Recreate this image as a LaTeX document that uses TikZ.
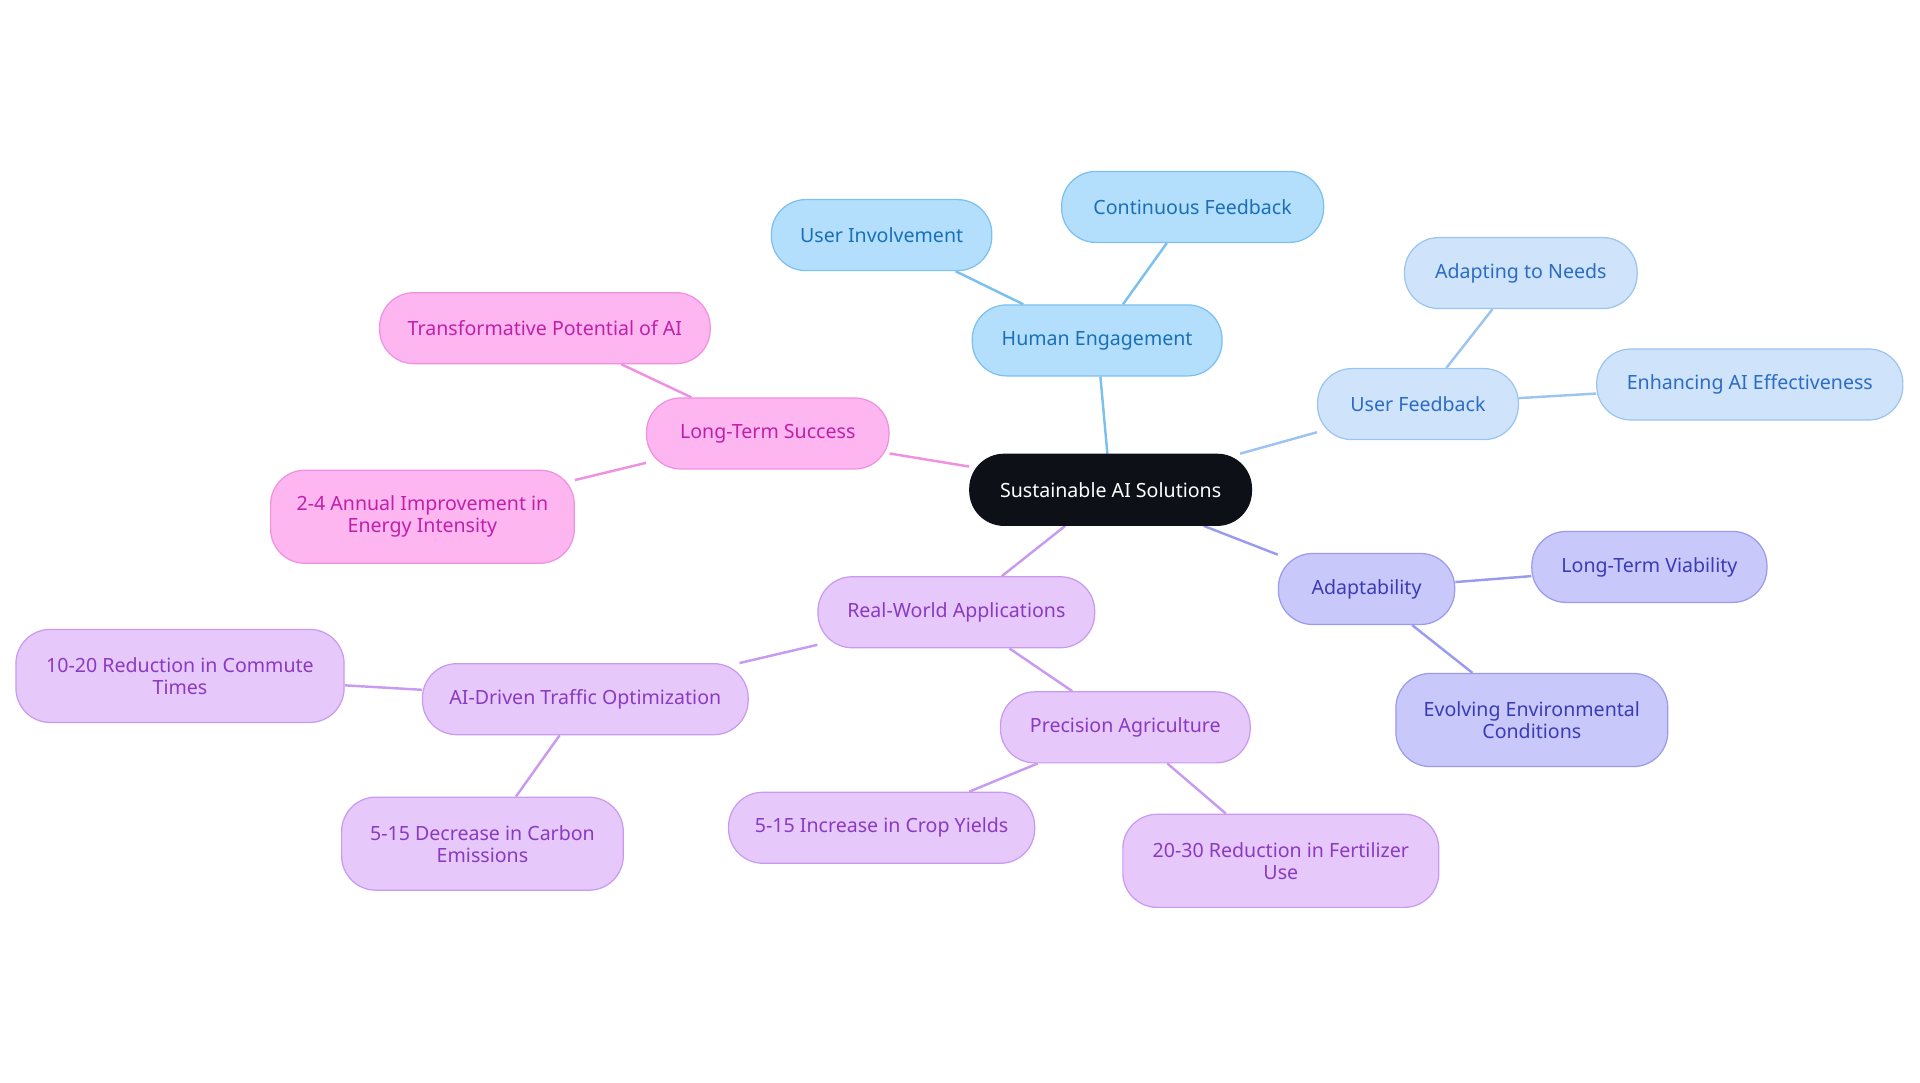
\documentclass[tikz,border=0pt]{standalone}
\usepackage{fontspec}
\setmainfont{Noto Sans}
\usetikzlibrary{backgrounds}
\definecolor{hbF}{HTML}{B3DFFC}\definecolor{hbD}{HTML}{7CC0F0}\definecolor{hbT}{HTML}{1A6FB5}
\definecolor{ufF}{HTML}{CFE3FA}\definecolor{ufD}{HTML}{9CC4F0}\definecolor{ufT}{HTML}{2B6CC4}
\definecolor{adF}{HTML}{C8C8FA}\definecolor{adD}{HTML}{9A9AEE}\definecolor{adT}{HTML}{3B3BB5}
\definecolor{rwF}{HTML}{E6C8FA}\definecolor{rwD}{HTML}{C89AF0}\definecolor{rwT}{HTML}{8A3AC0}
\definecolor{ltF}{HTML}{FDB6F0}\definecolor{ltD}{HTML}{F090E0}\definecolor{ltT}{HTML}{C020A8}
\definecolor{ctr}{HTML}{0D1117}
\tikzset{
 box/.style={rounded corners=28pt,line width=1pt,align=center,font=\fontsize{16}{18}\selectfont,minimum height=58pt,inner sep=0pt},
 hb/.style={box,fill=hbF,draw=hbD,text=hbT},
 uf/.style={box,fill=ufF,draw=ufD,text=ufT},
 ad/.style={box,fill=adF,draw=adD,text=adT},
 rw/.style={box,fill=rwF,draw=rwD,text=rwT},
 lt/.style={box,fill=ltF,draw=ltD,text=ltT},
 tall/.style={minimum height=76pt},
 ed/.style={line width=2pt}
}
\begin{document}
\begin{tikzpicture}[x=1pt,y=-1pt]
\useasboundingbox (0,0) rectangle (1568,884);
\node[box,fill=ctr,draw=ctr,text=white,minimum width=230pt] (c) at (907,400) {Sustainable AI Solutions};
\node[hb,minimum width=204pt] (he) at (896,278) {Human Engagement};
\node[hb,minimum width=180pt] (ui) at (720,192) {User Involvement};
\node[hb,minimum width=214pt] (cf) at (974,169) {Continuous Feedback};
\node[uf,minimum width=164pt] (uf) at (1158,330) {User Feedback};
\node[uf,minimum width=190pt] (an) at (1242,223) {Adapting to Needs};
\node[uf,minimum width=250pt] (ea) at (1429,314) {Enhancing AI Effectiveness};
\node[ad,minimum width=144pt] (ad) at (1116,481) {Adaptability};
\node[ad,minimum width=192pt] (lv) at (1347,463) {Long-Term Viability};
\node[ad,tall,minimum width=222pt] (ev) at (1251,588) {Evolving Environmental\\Conditions};
\node[rw,minimum width=226pt] (rw) at (781,500) {Real-World Applications};
\node[rw,minimum width=266pt] (tr) at (478,571) {AI-Driven Traffic Optimization};
\node[rw,tall,minimum width=268pt] (ct) at (147,552) {10-20 Reduction in Commute\\Times};
\node[rw,tall,minimum width=230pt] (ce) at (394,689) {5-15 Decrease in Carbon\\Emissions};
\node[rw,minimum width=204pt] (pa) at (919,594) {Precision Agriculture};
\node[rw,minimum width=250pt] (cy) at (720,676) {5-15 Increase in Crop Yields};
\node[rw,tall,minimum width=258pt] (fu) at (1046,703) {20-30 Reduction in Fertilizer\\Use};
\node[lt,minimum width=198pt] (ls) at (627,354) {Long-Term Success};
\node[lt,minimum width=270pt] (tp) at (445,268) {Transformative Potential of AI};
\node[lt,tall,minimum width=248pt] (ei) at (345,422) {2-4 Annual Improvement in\\Energy Intensity};
\begin{scope}[on background layer]
\draw[ed,hbD] (c)--(he) (he)--(ui) (he)--(cf);
\draw[ed,ufD] (c)--(uf) (uf)--(an) (uf)--(ea);
\draw[ed,adD] (c)--(ad) (ad)--(lv) (ad)--(ev);
\draw[ed,rwD] (c)--(rw) (rw)--(tr) (tr)--(ct) (tr)--(ce) (rw)--(pa) (pa)--(cy) (pa)--(fu);
\draw[ed,ltD] (c)--(ls) (ls)--(tp) (ls)--(ei);
\end{scope}
\end{tikzpicture}
\end{document}
